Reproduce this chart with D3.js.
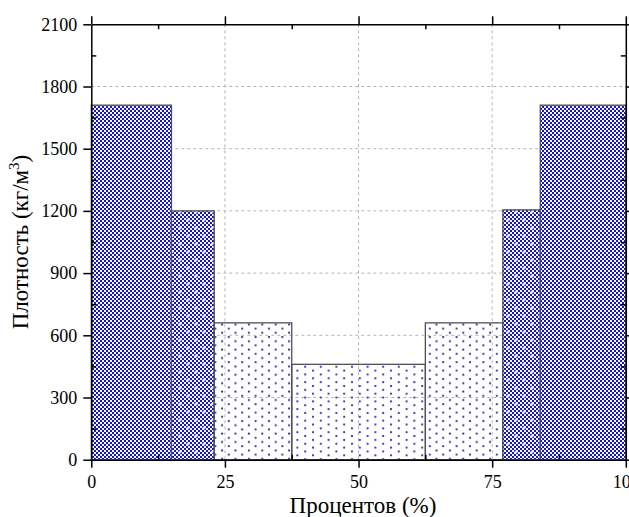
<!DOCTYPE html>
<html><head><meta charset="utf-8">
<script src="https://cdn.jsdelivr.net/npm/d3@7/dist/d3.min.js"></script>
<style>html,body{margin:0;padding:0;background:#fff;overflow:hidden}svg{display:block}</style>
</head><body>
<svg id="chart" width="629" height="517"></svg>
<script>
// Data
const segStart = [0, 15, 23, 37.5, 62.5, 77, 84];
const segEnd   = [15, 23, 37.5, 62.5, 77, 84, 100];
const density  = [1710, 1200, 660, 460, 660, 1205, 1710];
const xTicks = [0, 25, 50, 75, 100];
const xMinor = [12.5, 37.5, 62.5, 87.5];
const yTicks = [0, 300, 600, 900, 1200, 1500, 1800, 2100];
const yMinor = [150, 450, 750, 1050, 1350, 1650, 1950];
const xTitle = "Процентов (%)";
const yTitleMain = "Плотность (кг/м";
const yTitleSup = "3";

const svg = d3.select("#chart");
const L = 91.3, R = 625.8, T = 24.3, B = 459.7;
const x = d3.scaleLinear().domain([0, 100]).range([L, R]);
const y = d3.scaleLinear().domain([0, 2100]).range([B, T]);
const FONT = '"Liberation Serif"';

// Patterns
const defs = svg.append("defs");
const dark = "#1616c6", light = "#f6f6ff";
function checker(id, size) {
  const p = defs.append("pattern").attr("id", id).attr("patternUnits", "userSpaceOnUse")
    .attr("width", size).attr("height", size);
  p.append("rect").attr("width", size).attr("height", size).attr("fill", light);
  for (let i = 0; i < size; i += 2) for (let j = 0; j < size; j += 2) {
    if (((i + j) / 2) % 2 === 0) p.append("rect").attr("x", i).attr("y", j).attr("width", 2).attr("height", 2).attr("fill", dark);
  }
  return p;
}
checker("check", 4);
const pc = checker("checkCross", 16);
[[4, 4], [12, 12]].forEach(([cx, cy]) => {
  pc.append("rect").attr("x", cx - 1.5).attr("y", cy - 0.5).attr("width", 3).attr("height", 1).attr("fill", "#fff");
  pc.append("rect").attr("x", cx - 0.5).attr("y", cy - 1.5).attr("width", 1).attr("height", 3).attr("fill", "#fff");
});
function dots(id, w, h) {
  const p = defs.append("pattern").attr("id", id).attr("patternUnits", "userSpaceOnUse")
    .attr("width", w).attr("height", h);
  [[1, 1], [1 + w / 2, 1 + h / 2]].forEach(([cx, cy]) => {
    p.append("rect").attr("x", cx - 1).attr("y", cy - 1).attr("width", 2).attr("height", 2).attr("fill", "#6c6ce0");
    p.append("rect").attr("x", cx - 0.6).attr("y", cy - 0.6).attr("width", 1.2).attr("height", 1.2).attr("fill", "#000080");
  });
}
dots("dotsDense", 13.4, 8.4);
dots("dotsSparse", 15.6, 7.7);

function patternFor(v) {
  if (v >= 1500) return "url(#check)";
  if (v >= 1000) return "url(#checkCross)";
  if (v >= 600) return "url(#dotsDense)";
  return "url(#dotsSparse)";
}

// Gridlines
const grid = svg.append("g");
grid.selectAll("line.gy").data(yTicks.filter(d => d > 0 && d < 2100)).join("line")
  .attr("x1", L).attr("x2", R).attr("y1", d => y(d)).attr("y2", d => y(d))
  .attr("stroke", "#b4b4b4").attr("stroke-width", 1).attr("stroke-dasharray", "3,3");
grid.selectAll("line.gx").data(xTicks.filter(d => d > 0 && d < 100)).join("line")
  .attr("y1", T).attr("y2", B).attr("x1", d => x(d)).attr("x2", d => x(d))
  .attr("stroke", "#b4b4b4").attr("stroke-width", 1).attr("stroke-dasharray", "3,3");

// Bars
const bars = density.map((v, i) => ({ s: segStart[i], e: segEnd[i], v }));
svg.append("g").selectAll("rect").data(bars).join("rect")
  .attr("x", d => x(d.s)).attr("width", d => x(d.e) - x(d.s))
  .attr("y", d => y(d.v)).attr("height", d => y(0) - y(d.v))
  .attr("fill", d => patternFor(d.v))
  .attr("stroke", "#505050").attr("stroke-width", 1.3);

// Axes
const fmt = d3.format("d");
function styleAxis(g) {
  g.attr("font-family", null).attr("font-size", null);
  g.selectAll(".domain").attr("stroke", "#000").attr("stroke-width", 1.5);
  g.selectAll(".tick line").attr("stroke", "#000").attr("stroke-width", 1.5);
  g.selectAll("text").style("font-family", FONT).style("font-size", "18px").attr("fill", "#000");
}
const xb = svg.append("g").attr("transform", `translate(0,${B})`)
  .call(d3.axisBottom(x).tickValues(xTicks).tickFormat(fmt).tickSize(8).tickPadding(8).tickSizeOuter(0));
styleAxis(xb);
const xbm = svg.append("g").attr("transform", `translate(0,${B})`)
  .call(d3.axisTop(x).tickValues(xMinor).tickSize(5).tickFormat("").tickSizeOuter(0));
styleAxis(xbm); xbm.select(".domain").remove();

const xt = svg.append("g").attr("transform", `translate(0,${T})`)
  .call(d3.axisTop(x).tickValues(xTicks).tickSize(8).tickFormat("").tickSizeOuter(0));
styleAxis(xt);
const xtm = svg.append("g").attr("transform", `translate(0,${T})`)
  .call(d3.axisBottom(x).tickValues(xMinor).tickSize(5).tickFormat("").tickSizeOuter(0));
styleAxis(xtm); xtm.select(".domain").remove();

const yl = svg.append("g").attr("transform", `translate(${L},0)`)
  .call(d3.axisLeft(y).tickValues(yTicks).tickFormat(fmt).tickSize(8).tickPadding(6).tickSizeOuter(0));
styleAxis(yl);
const ylm = svg.append("g").attr("transform", `translate(${L},0)`)
  .call(d3.axisRight(y).tickValues(yMinor).tickSize(5).tickFormat("").tickSizeOuter(0));
styleAxis(ylm); ylm.select(".domain").remove();

const yr = svg.append("g").attr("transform", `translate(${R},0)`)
  .call(d3.axisRight(y).tickValues(yTicks).tickSize(8).tickFormat("").tickSizeOuter(0));
styleAxis(yr);
const yrm = svg.append("g").attr("transform", `translate(${R},0)`)
  .call(d3.axisLeft(y).tickValues(yMinor).tickSize(5).tickFormat("").tickSizeOuter(0));
styleAxis(yrm); yrm.select(".domain").remove();

// Titles
svg.append("text").attr("x", 363).attr("y", 513)
  .attr("text-anchor", "middle").style("font-family", FONT).style("font-size", "23px")
  .text(xTitle);
const yt = svg.append("text").attr("transform", `translate(28,242) rotate(-90)`)
  .attr("text-anchor", "middle").style("font-family", FONT).style("font-size", "23px");
yt.append("tspan").text(yTitleMain);
yt.append("tspan").style("font-size", "15px").attr("dy", -9).text(yTitleSup);
yt.append("tspan").attr("dy", 9).text(")");
</script>
</body></html>
